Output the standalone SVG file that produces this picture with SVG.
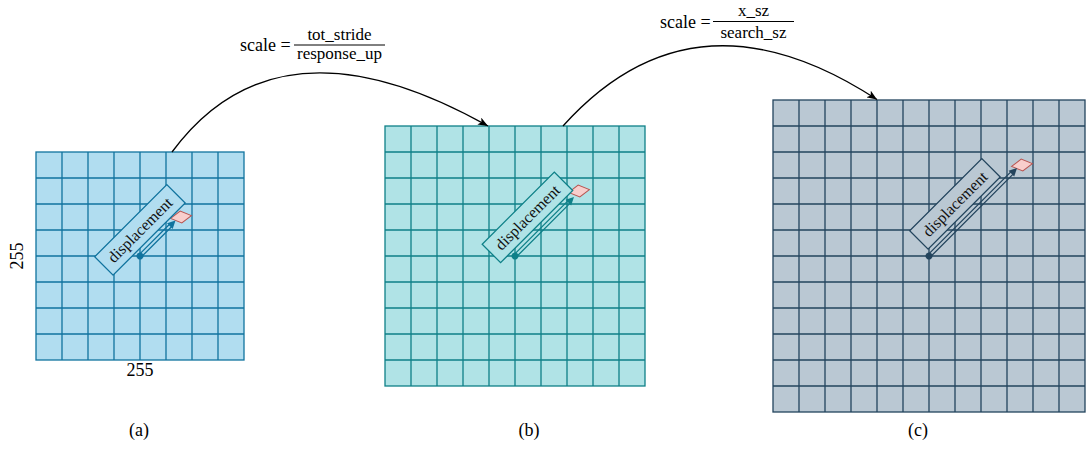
<svg xmlns="http://www.w3.org/2000/svg" width="1088" height="455" viewBox="0 0 1088 455" font-family="'Liberation Serif', 'DejaVu Serif', 'Times New Roman', serif">
<style>
text{font-family:"Liberation Serif","DejaVu Serif","Times New Roman",serif;fill:#000}
.lbl{font-size:18px}
.frac{font-size:17px}
.mid{text-anchor:middle}
.disp{font-size:16px;text-anchor:middle;fill:#111}
.ga{fill:#b1ddf0;stroke:#10739e;stroke-width:1.3}
.gb{fill:#b0e3e6;stroke:#0e8088;stroke-width:1.3}
.gc{fill:#bac8d3;stroke:#23445d;stroke-width:1.3}
.ln{fill:none}
.ta{stroke:#10739e;stroke-width:1.3;fill:none}
.tb{stroke:#0e8088;stroke-width:1.3;fill:none}
.tc{stroke:#23445d;stroke-width:1.3;fill:none}
.pa{fill:#10739e}
.pb{fill:#0e8088}
.pc{fill:#23445d}
.dia{fill:#f8cecc;stroke:#b85450;stroke-width:1}
.curve{fill:none;stroke:#000;stroke-width:1.3}
.bar{stroke:#000;stroke-width:1}
</style>
<defs>
<marker id="arr" viewBox="0 0 10 8" markerWidth="10" markerHeight="8" refX="10" refY="4" orient="auto" markerUnits="userSpaceOnUse">
<path d="M0,0 L10,4 L0,8 L2.5,4 Z" fill="#000"/>
</marker>
</defs>

<g id="grid-a">
<rect class="ga" x="36" y="152" width="208" height="208"/>
<path class="ga ln" d="M36,178H244M36,204H244M36,230H244M36,256H244M36,282H244M36,308H244M36,334H244M62,152V360M88,152V360M114,152V360M140,152V360M166,152V360M192,152V360M218,152V360"/>
</g>
<g id="grid-b">
<rect class="gb" x="385" y="126" width="260" height="260"/>
<path class="gb ln" d="M385,152H645M385,178H645M385,204H645M385,230H645M385,256H645M385,282H645M385,308H645M385,334H645M385,360H645M411,126V386M437,126V386M463,126V386M489,126V386M515,126V386M541,126V386M567,126V386M593,126V386M619,126V386"/>
</g>
<g id="grid-c">
<rect class="gc" x="773" y="100" width="312" height="312"/>
<path class="gc ln" d="M773,126H1085M773,152H1085M773,178H1085M773,204H1085M773,230H1085M773,256H1085M773,282H1085M773,308H1085M773,334H1085M773,360H1085M773,386H1085M799,100V412M825,100V412M851,100V412M877,100V412M903,100V412M929,100V412M955,100V412M981,100V412M1007,100V412M1033,100V412M1059,100V412"/>
</g>

<g id="target-a"><polygon class="dia" transform="translate(181,217) rotate(-8)" points="-10.5,0 0,-6 10.5,0 0,6"/></g>
<g id="target-b"><polygon class="dia" transform="translate(579,191) rotate(-8)" points="-10.5,0 0,-6 10.5,0 0,6"/></g>
<g id="target-c"><polygon class="dia" transform="translate(1022,165) rotate(-8)" points="-10.5,0 0,-6 10.5,0 0,6"/></g>

<g id="disp-a" transform="translate(140,256) rotate(-45)">
<rect class="ga" x="-32.6" y="-31.5" width="102" height="26"/>
<text class="disp" x="18.4" y="-13" font-family="'Liberation Serif', 'DejaVu Serif', serif">displacement</text>
<path class="ta" d="M0,-1.6H43M0,1.6H43"/>
<polygon class="pa" points="50.2,0 42.2,-4 42.2,4"/>
<circle class="pa" cx="0" cy="0" r="3.4"/>
</g>
<g id="disp-b" transform="translate(515,256) rotate(-45)">
<rect class="gb" x="-14.9" y="-31.5" width="102" height="26"/>
<text class="disp" x="36.1" y="-13" font-family="'Liberation Serif', 'DejaVu Serif', serif">displacement</text>
<path class="tb" d="M0,-1.6H76M0,1.6H76"/>
<polygon class="pb" points="83.4,0 75.4,-4 75.4,4"/>
<circle class="pb" cx="0" cy="0" r="3.4"/>
</g>
<g id="disp-c" transform="translate(929,256) rotate(-45)">
<rect class="gc" x="4.2" y="-31.5" width="102" height="26"/>
<text class="disp" x="55.2" y="-13" font-family="'Liberation Serif', 'DejaVu Serif', serif">displacement</text>
<path class="tc" d="M0,-1.6H117M0,1.6H117"/>
<polygon class="pc" points="124.5,0 116.5,-4 116.5,4"/>
<circle class="pc" cx="0" cy="0" r="3.4"/>
</g>

<g id="connectors">
<path class="curve" d="M172,152 Q278,8 488,126" marker-end="url(#arr)"/>
<path class="curve" d="M563,126 Q694,-20 877,99.5" marker-end="url(#arr)"/>
</g>

<g id="label-scale-1">
<text class="lbl" x="240" y="51">scale =</text>
<line class="bar" x1="294" y1="45" x2="385" y2="45"/>
<text class="frac mid" x="339.5" y="39.5">tot_stride</text>
<text class="frac mid" x="339.5" y="59">response_up</text>
</g>
<g id="label-scale-2">
<text class="lbl" x="660" y="27.5">scale =</text>
<line class="bar" x1="713" y1="21.5" x2="794" y2="21.5"/>
<text class="frac mid" x="753.5" y="16">x_sz</text>
<text class="frac mid" x="753.5" y="37.5">search_sz</text>
</g>

<g id="dims">
<text class="lbl mid" x="140" y="376">255</text>
<text class="lbl mid" transform="translate(23,256) rotate(-90)">255</text>
</g>
<g id="captions">
<text class="lbl mid" x="139" y="436">(a)</text>
<text class="lbl mid" x="529" y="436">(b)</text>
<text class="lbl mid" x="918" y="436">(c)</text>
</g>
</svg>
